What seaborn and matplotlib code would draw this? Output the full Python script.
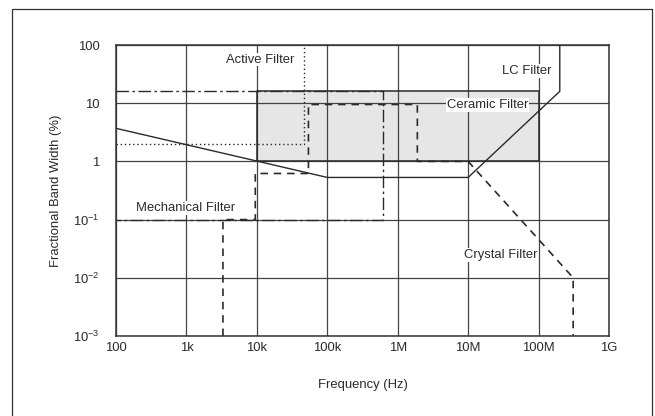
import numpy as np
import pandas as pd
import matplotlib.pyplot as plt
from matplotlib.lines import Line2D
import seaborn as sns

# ---- data (frequency in Hz, bandwidth in %) ----
ceramic_freq = [1e4, 1e8]
ceramic_low = [1.0, 1.0]
ceramic_high = [16.0, 16.0]

mech_freq = [100, 6.1e5, 6.1e5, 100]
mech_bw = [16, 16, 0.1, 0.1]

active_freq = [100, 4.6e4, 4.6e4]
active_bw = [2.0, 2.0, 100]

lc_freq = [100, 1e5, 1e7, 2e8, 2e8]
lc_bw = [3.7, 0.53, 0.53, 16, 100]

crystal_freq = [3.3e3, 3.3e3, 9.5e3, 9.5e3, 5.4e4, 5.4e4, 1.9e6, 1.9e6, 1e7, 3.1e8, 3.1e8]
crystal_bw = [1e-3, 0.1, 0.1, 0.62, 0.62, 9.5, 9.5, 1.0, 1.0, 0.01, 1e-3]

xticks = [1e2, 1e3, 1e4, 1e5, 1e6, 1e7, 1e8, 1e9]
xticklabels = ["100", "1k", "10k", "100k", "1M", "10M", "100M", "1G"]
yticks = [1e-3, 1e-2, 1e-1, 1, 10, 100]
yticklabels = [r"$\mathregular{10^{-3}}$", r"$\mathregular{10^{-2}}$", r"$\mathregular{10^{-1}}$", "1", "10", "100"]

labels = {"Active Filter": (1.1e4, 56),
          "LC Filter": (6.8e7, 36),
          "Ceramic Filter": (1.9e7, 9.3),
          "Mechanical Filter": (980, 0.16),
          "Crystal Filter": (2.9e7, 0.0245)}

sns.set_theme(style="white")
plt.rcParams['font.family'] = ['Liberation Sans', 'DejaVu Sans']
plt.rcParams['mathtext.fontset'] = 'custom'
plt.rcParams['mathtext.rm'] = 'Liberation Sans'
plt.rcParams['mathtext.it'] = 'Liberation Sans:italic'
plt.rcParams['mathtext.bf'] = 'Liberation Sans:bold'

ink = "#2a2a2a"
fs = 9.4

fig = plt.figure(figsize=(6.55, 4.16), dpi=100)
ax = fig.add_axes([116/655, 1-336/416, (609-116)/655, (336-45)/416])

# ceramic region
ax.fill_between(ceramic_freq, ceramic_low, ceramic_high, color="#e6e6e6", lw=0, zorder=0.2)
ax.plot([ceramic_freq[0], ceramic_freq[0], ceramic_freq[1], ceramic_freq[1], ceramic_freq[0]],
        [ceramic_low[0], ceramic_high[0], ceramic_high[1], ceramic_low[1], ceramic_low[0]],
        color=ink, lw=1.1, zorder=1.5)

sns.lineplot(x=mech_freq, y=mech_bw, sort=False, estimator=None, ax=ax,
             color=ink, lw=1.0, linestyle=(0, (9, 2.5, 1.8, 2.5)))
sns.lineplot(x=active_freq, y=active_bw, sort=False, estimator=None, ax=ax,
             color=ink, lw=1.0, linestyle=(0, (1, 2)))
sns.lineplot(x=lc_freq, y=lc_bw, sort=False, estimator=None, ax=ax,
             color=ink, lw=1.0)
sns.lineplot(x=crystal_freq, y=crystal_bw, sort=False, estimator=None, ax=ax,
             color=ink, lw=1.2, linestyle=(0, (4.5, 3.5)))

ax.set_xscale("log")
ax.set_yscale("log")
ax.set_xlim(1e2, 1e9)
ax.set_ylim(1e-3, 100)
ax.set_xticks(xticks)
ax.set_xticklabels(xticklabels)
ax.set_yticks(yticks)
ax.set_yticklabels(yticklabels)
ax.minorticks_off()
ax.tick_params(axis="x", length=0, pad=4.5, labelsize=fs, labelcolor=ink)
ax.tick_params(axis="y", length=0, pad=12, labelsize=fs, labelcolor=ink)
ax.grid(True, which="major", color="#444444", lw=0.9)
ax.set_axisbelow(True)
for s in ax.spines.values():
    s.set_color("#333333")
    s.set_linewidth(1.1)

ax.set_xlabel("Frequency (Hz)", fontsize=fs, color=ink)
ax.xaxis.set_label_coords(0.5, -(379 - 336) / 291)
ax.set_ylabel("Fractional Band Width (%)", fontsize=fs, color=ink)
ax.yaxis.set_label_coords(-(116 - 62) / 493, 0.5)

for txt, (fx, fy) in labels.items():
    ax.text(fx, fy, txt, fontsize=fs, color=ink, ha="center", va="center", zorder=5,
            bbox=dict(facecolor="white", edgecolor="none", pad=0.6))

# outer frame
fig.add_artist(Line2D([12/655, 12/655, 652/655, 652/655], [0, 1-9/416, 1-9/416, 0],
                      transform=fig.transFigure, color="#333333", lw=0.9))

fig.savefig("out.png", dpi=100)
